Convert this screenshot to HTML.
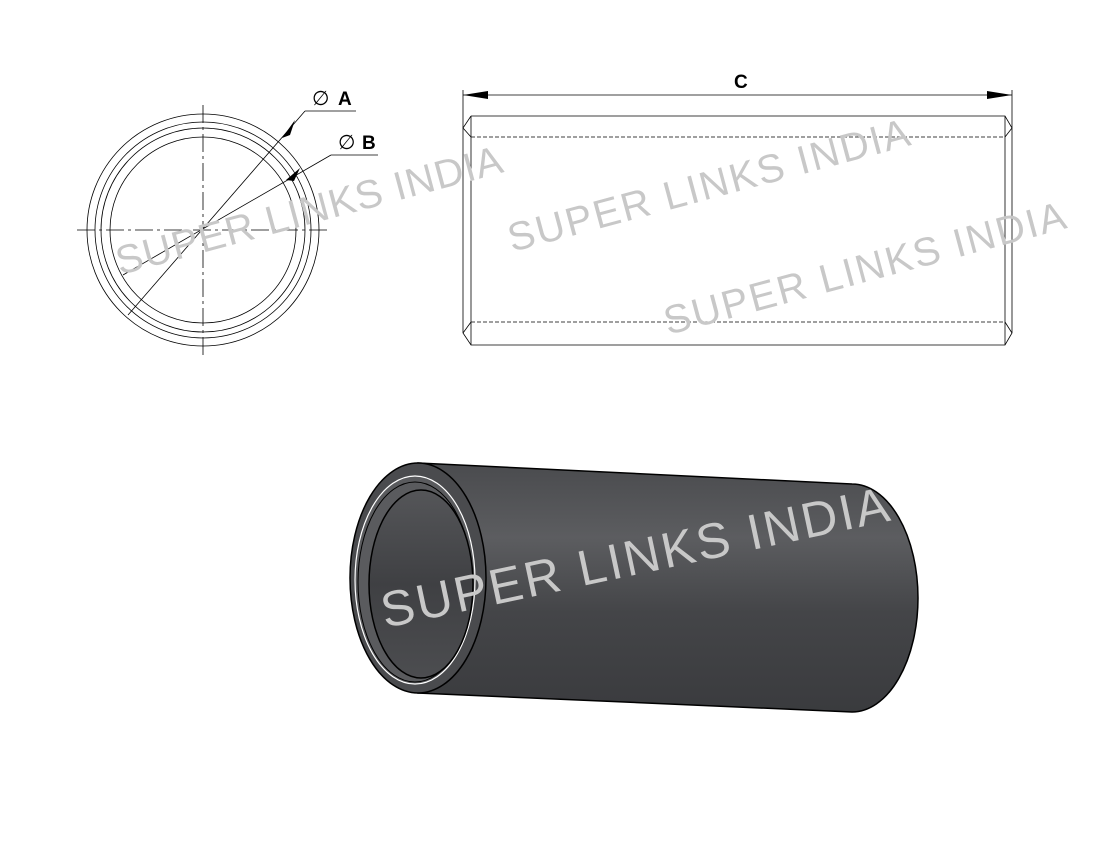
<!DOCTYPE html>
<html><head><style>body{margin:0;background:#fff}svg{display:block}</style></head><body>
<svg width="1100" height="850" viewBox="0 0 1100 850" xmlns="http://www.w3.org/2000/svg" font-family="Liberation Sans, sans-serif">
<defs>
<linearGradient id="g" x1="0" y1="0" x2="0" y2="1">
<stop offset="0" stop-color="#4a4b4e"/><stop offset="0.3" stop-color="#5c5d60"/><stop offset="0.6" stop-color="#444548"/><stop offset="1" stop-color="#3a3b3e"/>
</linearGradient>
<linearGradient id="gi" x1="0" y1="0" x2="0" y2="1">
<stop offset="0" stop-color="#555659"/><stop offset="0.5" stop-color="#3f4043"/><stop offset="1" stop-color="#4c4d50"/>
</linearGradient>
</defs>
<g fill="none" stroke="#000" stroke-width="0.8">
<circle cx="203" cy="230" r="116"/>
<circle cx="203" cy="230" r="108"/>
<circle cx="203" cy="230" r="102"/>
<circle cx="203" cy="230" r="93"/>
<line x1="77" y1="230" x2="330" y2="230" stroke-dasharray="18,4,3,4"/>
<line x1="203" y1="105" x2="203" y2="355" stroke-dasharray="18,4,3,4"/>
<line x1="128" y1="315" x2="305" y2="111"/>
<line x1="305" y1="111" x2="356" y2="111"/>
<line x1="123" y1="275" x2="331" y2="155"/>
<line x1="331" y1="155" x2="378" y2="155"/>
</g>
<polygon points="282,138 295,120 290,135" fill="#000"/>
<polygon points="286,180 300,168 294,181" fill="#000"/>
<text x="312" y="105" font-size="20">∅</text><text x="338" y="105" font-size="19" font-weight="bold">A</text>
<text x="338" y="149" font-size="20">∅</text><text x="362" y="149" font-size="19" font-weight="bold">B</text>
<g fill="none" stroke="#000" stroke-width="0.8">
<line x1="463" y1="95" x2="1012" y2="95"/>
<line x1="463" y1="90" x2="463" y2="128"/><line x1="1012" y1="90" x2="1012" y2="128"/>
<polyline points="471,116 1005,116 1012,128 1012,333 1005,345 471,345 463,333 463,128 471,116"/>
<line x1="471" y1="116" x2="471" y2="345"/><line x1="1005" y1="116" x2="1005" y2="345"/>
<line x1="463" y1="128" x2="471" y2="137"/><line x1="1012" y1="128" x2="1005" y2="137"/>
<line x1="463" y1="333" x2="471" y2="322"/><line x1="1012" y1="333" x2="1005" y2="322"/>
<line x1="471" y1="137" x2="1005" y2="137" stroke-dasharray="4,2"/>
<line x1="471" y1="322" x2="1005" y2="322" stroke-dasharray="4,2"/>
</g>
<polygon points="463,95 488,91 488,99" fill="#000"/>
<polygon points="1012,95 987,91 987,99" fill="#000"/>
<text x="734" y="88" font-size="19" font-weight="bold">C</text>
<path d="M418,463 L852,484 A66,114 0 0 1 852,712 L418,693 Z" fill="url(#g)" stroke="#000" stroke-width="1.5"/>
<ellipse cx="418" cy="578" rx="68" ry="115" fill="#4a4b4e" stroke="#000" stroke-width="1.5"/>
<ellipse cx="415" cy="580" rx="60" ry="104" fill="#5a5b5e" stroke="#fff" stroke-width="1.2"/>
<ellipse cx="415" cy="582" rx="57" ry="100" fill="none" stroke="#000" stroke-width="1"/>
<ellipse cx="421" cy="584" rx="52" ry="94" fill="url(#gi)" stroke="#000" stroke-width="1.5"/>
<g fill="#c8c8c8" font-size="40">
<text transform="translate(120,275) rotate(-15)" letter-spacing="1">SUPER LINKS INDIA</text>
<text transform="translate(512,252) rotate(-15)" letter-spacing="2">SUPER LINKS INDIA</text>
<text transform="translate(668,335) rotate(-15)" letter-spacing="2">SUPER LINKS INDIA</text>
<text transform="translate(385,628) rotate(-12)" font-size="50" letter-spacing="2.5">SUPER LINKS INDIA</text>
</g>
</svg>
</body></html>
